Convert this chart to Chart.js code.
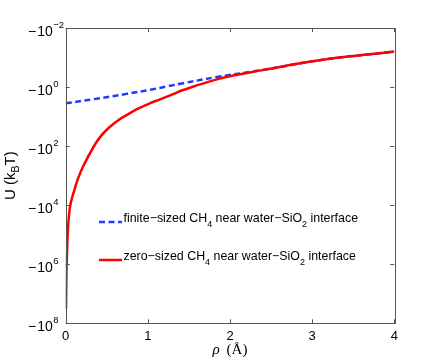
<!DOCTYPE html>
<html>
<head>
<meta charset="utf-8">
<script src="https://cdn.jsdelivr.net/npm/chart.js@4.4.1/dist/chart.umd.min.js"></script>
<style>
html,body{margin:0;padding:0;background:#fff;}
canvas{display:block;}
</style>
</head>
<body>
<canvas id="c" width="436" height="364"></canvas>
<script>
// ---- data ----
// rho in Angstrom, U in k_B T (negative)
const rhoZero = [0.004, 0.008, 0.012, 0.02, 0.03, 0.05, 0.073, 0.11, 0.15, 0.21, 0.34, 0.43, 0.54, 0.64, 0.74, 0.88, 1.03, 1.15, 1.3, 1.43, 1.84, 2.24, 2.49, 2.89, 3.3, 3.7, 4.0];
const uZero   = [-3.2e7, -4e6, -1e6, -2e5, -5e4, -1.26e4, -6.3e3, -2.8e3, -1.26e3, -500, -105, -45, -22, -13.2, -8.9, -5.4, -3.5, -2.6, -1.78, -1.26, -0.55, -0.32, -0.24, -0.151, -0.102, -0.078, -0.063];

const rhoFinite = [0, 0.34, 0.74, 1.03, 1.25, 1.43, 1.84, 2.24, 2.6, 2.89, 3.3, 3.7, 4.0];
const uFinite   = [-3.55, -2.57, -1.70, -1.23, -0.933, -0.741, -0.457, -0.309, -0.211, -0.151, -0.102, -0.078, -0.063];

const xTicks = [0, 1, 2, 3, 4];
const yExponents = [-2, 0, 2, 4, 6, 8];

const legendFinite = [['finite\u2212sized CH', ''], ['4', 'sub'], [' near water\u2212SiO', ''], ['2', 'sub'], [' interface', '']];
const legendZero   = [['zero\u2212sized CH', ''], ['4', 'sub'], [' near water\u2212SiO', ''], ['2', 'sub'], [' interface', '']];
const yTitle = [['U (k', ''], ['B', 'sub'], ['T)', '']];
const xTitleSymbol = '\u03C1';
const xTitleUnit = ' (\u00C5)';

// ---- styles ----
const RED = 'rgb(255,0,0)';
const BLUE = 'rgb(30,60,255)';
const AXIS = '#555';
const SANS = '"Liberation Sans", Arial, Helvetica, sans-serif';
const SERIF = '"Liberation Serif", "DejaVu Serif", serif';

function toPoints(xs, us) { return xs.map((x, i) => ({ x: x, y: -us[i] })); }

function drawRich(ctx, parts, x, y, size, subSize, subShift) {
  let cx = x;
  for (const [t, kind] of parts) {
    if (kind === 'sub') {
      ctx.font = subSize + 'px ' + SANS;
      ctx.fillText(t, cx, y + subShift);
    } else {
      ctx.font = size + 'px ' + SANS;
      ctx.fillText(t, cx, y);
    }
    cx += ctx.measureText(t).width;
  }
  return cx - x;
}
function measureRich(ctx, parts, size, subSize) {
  let w = 0;
  for (const [t, kind] of parts) {
    ctx.font = (kind === 'sub' ? subSize : size) + 'px ' + SANS;
    w += ctx.measureText(t).width;
  }
  return w;
}

const matlabAxes = {
  id: 'matlabAxes',
  afterDatasetsDraw(chart) {
    const ctx = chart.ctx;
    const a = chart.chartArea;
    const xs = chart.scales.x, ys = chart.scales.y;
    ctx.save();
    // box
    ctx.strokeStyle = AXIS;
    ctx.lineWidth = 1;
    ctx.beginPath();
    ctx.rect(Math.round(a.left) + 0.5, Math.round(a.top) + 0.5, Math.round(a.right - a.left), Math.round(a.bottom - a.top));
    ctx.stroke();
    const tl = 4;
    ctx.beginPath();
    for (const v of xTicks) {
      const px = Math.round(xs.getPixelForValue(v)) + 0.5;
      ctx.moveTo(px, a.bottom); ctx.lineTo(px, a.bottom - tl);
      ctx.moveTo(px, a.top); ctx.lineTo(px, a.top + tl);
    }
    for (const e of yExponents) {
      const py = Math.round(ys.getPixelForValue(Math.pow(10, e))) + 0.5;
      ctx.moveTo(a.left, py); ctx.lineTo(a.left + tl, py);
      ctx.moveTo(a.right, py); ctx.lineTo(a.right - tl, py);
    }
    ctx.stroke();

    ctx.fillStyle = '#000';
    // x tick labels
    ctx.font = '13px ' + SANS;
    ctx.textAlign = 'center';
    ctx.textBaseline = 'alphabetic';
    for (const v of xTicks) {
      ctx.fillText(String(v), xs.getPixelForValue(v), a.bottom + 17);
    }
    // y tick labels: -10^e
    for (const e of yExponents) {
      const py = ys.getPixelForValue(Math.pow(10, e));
      ctx.font = '14px ' + SANS;
      ctx.textAlign = 'right';
      ctx.fillText('10', a.left - 13, py + 8);
      ctx.fillText('\u2212', a.left - 13 - 16.5, py + 8);
      ctx.font = '9.5px ' + SANS;
      ctx.textAlign = 'left';
      ctx.fillText(e < 0 ? '\u2212' + Math.abs(e) : String(e), a.left - 12.5, py);
    }
    // x title
    ctx.textAlign = 'left';
    ctx.font = 'italic 15px ' + SERIF;
    const w1 = ctx.measureText(xTitleSymbol).width;
    ctx.font = '15px ' + SERIF;
    const w2 = ctx.measureText(xTitleUnit).width;
    const gap = 3;
    const cxm = (a.left + a.right) / 2;
    let sx = cxm - (w1 + w2 + gap) / 2;
    ctx.font = 'italic 15px ' + SERIF;
    ctx.fillText(xTitleSymbol, sx, 354);
    ctx.font = '15px ' + SERIF;
    ctx.fillText(xTitleUnit, sx + w1 + gap, 354);

    // y title rotated
    ctx.save();
    const ty = (a.top + a.bottom) / 2;
    ctx.translate(15, ty);
    ctx.rotate(-Math.PI / 2);
    const tw = measureRich(ctx, yTitle, 15, 10.5);
    drawRich(ctx, yTitle, -tw / 2, 0, 15, 10.5, 4);
    ctx.restore();

    // legend
    const legends = [
      { parts: legendFinite, color: BLUE, dash: [6, 3.5], y: 222 },
      { parts: legendZero, color: RED, dash: [], y: 260 }
    ];
    for (const L of legends) {
      ctx.save();
      ctx.strokeStyle = L.color;
      ctx.lineWidth = 2.5;
      ctx.setLineDash(L.dash);
      ctx.beginPath();
      ctx.moveTo(99, L.y); ctx.lineTo(122, L.y);
      ctx.stroke();
      ctx.restore();
      ctx.fillStyle = '#000';
      ctx.textAlign = 'left';
      drawRich(ctx, L.parts, 123.5, L.y - 0.5, 12.4, 9, 5);
    }
    ctx.restore();
  }
};

new Chart(document.getElementById('c'), {
  type: 'line',
  data: {
    datasets: [
      {
        label: 'zero-sized CH4 near water-SiO2 interface',
        data: toPoints(rhoZero, uZero),
        borderColor: RED,
        borderWidth: 2.5,
        pointRadius: 0,
        fill: false,
        tension: 0.4
      },
      {
        label: 'finite-sized CH4 near water-SiO2 interface',
        data: toPoints(rhoFinite, uFinite),
        borderColor: BLUE,
        borderWidth: 2.5,
        borderDash: [6, 3.5],
        pointRadius: 0,
        fill: false,
        tension: 0.4
      }
    ]
  },
  options: {
    responsive: false,
    animation: false,
    devicePixelRatio: 1,
    layout: { padding: { left: 0, top: 28, right: 41.7, bottom: 0 } },
    plugins: { legend: { display: false }, tooltip: { enabled: false } },
    scales: {
      x: {
        type: 'linear', min: 0, max: 4,
        grid: { display: false, drawTicks: false },
        border: { display: false },
        ticks: { display: false, stepSize: 1 },
        afterFit: s => { s.height = 40.7; }
      },
      y: {
        type: 'logarithmic', min: 1e-2, max: 1e8, reverse: true,
        grid: { display: false, drawTicks: false },
        border: { display: false },
        ticks: { display: false },
        afterFit: s => { s.width = 65.7; }
      }
    }
  },
  plugins: [matlabAxes]
});
</script>
</body>
</html>
